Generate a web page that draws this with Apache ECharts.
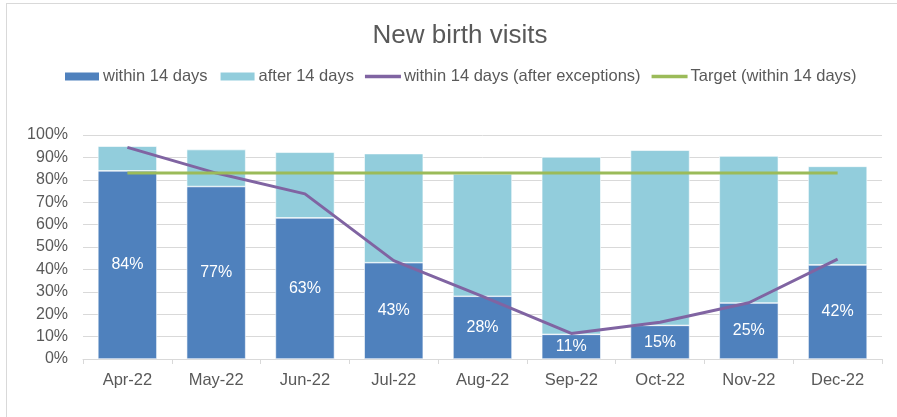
<!DOCTYPE html>
<html>
<head>
<meta charset="utf-8">
<script src="https://cdn.jsdelivr.net/npm/echarts@6/dist/echarts.min.js"></script>
<style>
html,body{margin:0;padding:0;background:#fff;}
#frame{position:absolute;left:6px;top:3px;width:900px;height:420px;border:1px solid #d9d9d9;box-sizing:border-box;}
#chart{position:absolute;left:0;top:0;width:897px;height:417px;}
</style>
</head>
<body>
<div id="frame"></div>
<div id="chart"></div>
<script>
const categories = ['Apr-22','May-22','Jun-22','Jul-22','Aug-22','Sep-22','Oct-22','Nov-22','Dec-22'];
const within14 = [84, 77, 63, 43, 28, 11, 15, 25, 42];
const after14 = [11, 16.5, 29.3, 48.7, 54.6, 79.2, 78.2, 65.6, 44];
const afterExceptions = [94.5, 83, 73.7, 43.9, 28, 11.4, 16.4, 25.1, 44.6];
const target = [83, 83, 83, 83, 83, 83, 83, 83, 83];
const yTicks = [0,10,20,30,40,50,60,70,80,90,100];

const txt = '#595959';
const font = 'Liberation Sans, Arial';
const lineIcon = 'path://M0,0L36,0L36,3.5L0,3.5Z';
const chart = echarts.init(document.getElementById('chart'), null, {renderer:'canvas'});
chart.setOption({
  animation:false,
  title:{text:'New birth visits', left:455, top:18, textAlign:'center',
    textStyle:{fontFamily:font, fontSize:26, fontWeight:'normal', color:txt}},
  legend:{top:63, left:58, itemGap:11, itemWidth:36, itemHeight:10, symbolKeepAspect:true,
    textStyle:{fontFamily:font, fontSize:16.5, color:txt, padding:[0,0,0,-2]},
    data:[{name:'within 14 days', icon:'rect'},{name:'after 14 days', icon:'rect'},
          {name:'within 14 days (after exceptions)', icon:lineIcon},
          {name:'Target (within 14 days)', icon:lineIcon}]},
  grid:{left:83, right:15, top:135, bottom:58},
  xAxis:{type:'category', data:categories,
    axisLine:{lineStyle:{color:'#d9d9d9'}},
    axisTick:{show:true, length:5, lineStyle:{color:'#d9d9d9'}},
    axisLabel:{fontFamily:font, fontSize:16.5, color:txt, margin:13}},
  yAxis:{type:'value', min:yTicks[0], max:yTicks[yTicks.length-1], interval:10,
    axisLine:{show:false}, axisTick:{show:false},
    splitLine:{lineStyle:{color:'#d9d9d9', width:1}},
    axisLabel:{fontFamily:font, fontSize:16, color:txt, formatter:'{value}%', margin:15}},
  series:[
    {name:'within 14 days', type:'bar', stack:'a', data:within14, barCategoryGap:'33.5%',
      itemStyle:{color:'#4f81bd', borderColor:'#ffffff', borderWidth:0.6},
      label:{show:true, position:'inside', formatter:'{c}%', color:'#ffffff',
        fontFamily:font, fontSize:16}},
    {name:'after 14 days', type:'bar', stack:'a', data:after14,
      itemStyle:{color:'#92cddc', borderColor:'#ffffff', borderWidth:0.6}},
    {name:'within 14 days (after exceptions)', type:'line', data:afterExceptions,
      symbol:'none', lineStyle:{color:'#8064a2', width:3}, itemStyle:{color:'#8064a2'}},
    {name:'Target (within 14 days)', type:'line', data:target,
      symbol:'none', lineStyle:{color:'#9bbb59', width:3}, itemStyle:{color:'#9bbb59'}}
  ]
});
</script>
</body>
</html>
